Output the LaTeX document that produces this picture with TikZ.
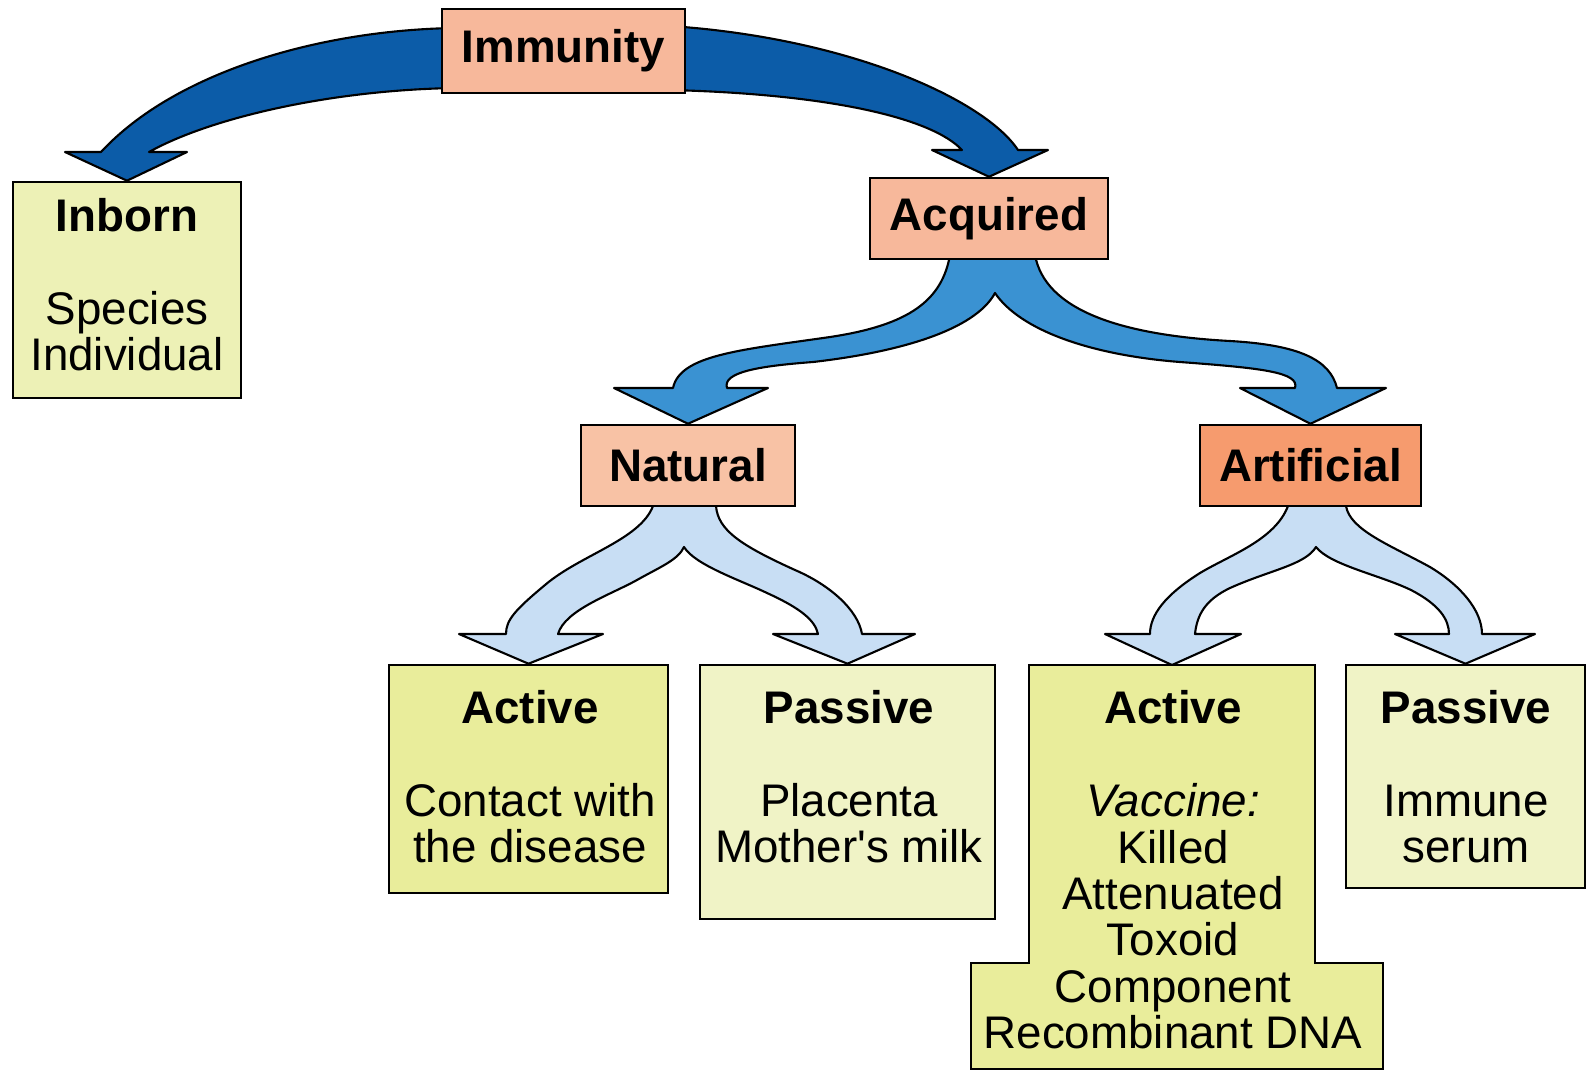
\documentclass[tikz,border=0pt]{standalone}
\usepackage{fontspec}
\setmainfont{Liberation Sans}
\usetikzlibrary{backgrounds}

\definecolor{salmon}{RGB}{247,184,155}
\definecolor{salmonlt}{RGB}{248,194,165}
\definecolor{salmondk}{RGB}{246,155,110}
\definecolor{leafyel}{RGB}{233,237,155}
\definecolor{leafpale}{RGB}{240,243,198}
\definecolor{leafmid}{RGB}{237,241,182}
\definecolor{bluedk}{RGB}{12,92,168}
\definecolor{bluemd}{RGB}{58,146,210}
\definecolor{bluelt}{RGB}{200,222,244}

\tikzset{
  hdbox/.style={draw, line width=0.7pt, fill=#1, inner sep=0pt,
    font=\fontsize{13}{13.2}\selectfont\bfseries},
  leafbox/.style={draw, line width=0.7pt, fill=#1, inner sep=0pt},
  txtnode/.style={align=center, inner sep=0pt, font=\fontsize{13}{13.2}\selectfont},
  bandfill/.style={draw, line width=0.6pt, fill=#1, line join=round},
}

\begin{document}
\begin{tikzpicture}[x=0.01cm, y=-0.01cm]
\useasboundingbox (0,0) rectangle (1587,1072);

% headers
\node[hdbox=salmon, minimum width=2.43cm, minimum height=0.84cm] (imm) at (563.5,51) {Immunity};
\node[hdbox=salmon, minimum width=2.38cm, minimum height=0.81cm] (acq) at (989,218.5) {Acquired};
\node[hdbox=salmonlt, minimum width=2.14cm, minimum height=0.81cm] (nat) at (688,465.5) {Natural};
\node[hdbox=salmondk, minimum width=2.21cm, minimum height=0.81cm] (art) at (1310.5,465.5) {Artificial};

% leaf boxes
\node[leafbox=leafmid, minimum width=2.28cm, minimum height=2.16cm] (inbornbox) at (127,290) {};
\node[leafbox=leafyel, minimum width=2.79cm, minimum height=2.28cm] (act1box) at (528.5,779) {};
\node[leafbox=leafpale, minimum width=2.95cm, minimum height=2.54cm] (pas1box) at (847.5,792) {};
\node[leafbox=leafpale, minimum width=2.39cm, minimum height=2.23cm] (pas2box) at (1465.5,776.5) {};
\draw[line width=0.7pt, fill=leafyel] (1029,665) -- (1315,665) -- (1315,963) -- (1383,963)
  -- (1383,1069) -- (971,1069) -- (971,963) -- (1029,963) -- cycle;
\coordinate (act2top) at (1172,665);

% texts
\node[txtnode] (inborn) at (127,285) {\textbf{Inborn}\\[13.2pt]Species\\Individual};
\node[txtnode] (act1) at (530,777) {\textbf{Active}\\[13.2pt]Contact with\\the disease};
\node[txtnode] (pas1) at (849,777) {\textbf{Passive}\\[13.2pt]Placenta\\Mother\textquotesingle s milk};
\node[txtnode] (act2) at (1173,870) {\textbf{Active}\\[13.2pt]\textit{Vaccine:}\\Killed\\Attenuated\\Toxoid\\Component\\Recombinant DNA};
\node[txtnode] (pas2) at (1466,777) {\textbf{Passive}\\[13.2pt]Immune\\serum};

\begin{pgfonlayer}{background}
% Immunity -> Inborn
\draw[bandfill=bluedk] (455,28) .. controls (320,30) and (175,72) .. (101,152) -- (65,152)
  -- (inbornbox.north) -- (187,152) -- (149,152) .. controls (210,118) and (330,90) .. (455,88) -- cycle;
% Immunity -> Acquired
\draw[bandfill=bluedk] (670,26) .. controls (850,38) and (985,100) .. (1018,150) -- (1048,150)
  -- (acq.north) -- (932,150) -- (962,150) .. controls (932,118) and (830,94) .. (670,90) -- cycle;

% Acquired -> Natural, Artificial
\draw[bandfill=bluemd] (950,255) .. controls (942,300) and (910,325) .. (830,337)
  .. controls (740,350) and (680,355) .. (673,388) -- (614,388) -- (nat.north) -- (768,388) -- (727,388)
  .. controls (722,372) and (760,366) .. (813,362) .. controls (900,352) and (975,330) .. (995,293)
  .. controls (1020,330) and (1090,355) .. (1180,362) .. controls (1260,368) and (1300,372) .. (1295,388)
  -- (1240,388) -- (art.north) -- (1386,388) -- (1337,388)
  .. controls (1330,360) and (1300,345) .. (1230,341) .. controls (1120,335) and (1045,310) .. (1035,255) -- cycle;

% Natural -> Active, Passive
\draw[bandfill=bluelt] (653,502) -- (653,506) .. controls (640,540) and (580,555) .. (545,585)
  .. controls (515,610) and (506,620) .. (506,634) -- (459,634) -- (act1box.north) -- (603,634) -- (558,634)
  .. controls (565,610) and (610,595) .. (637,580) .. controls (660,567) and (678,560) .. (684,547)
  .. controls (695,565) and (740,580) .. (767,593) .. controls (800,608) and (815,620) .. (818,634)
  -- (773,634) -- (pas1box.north) -- (915,634) -- (862,634)
  .. controls (858,610) and (830,585) .. (795,570) .. controls (740,545) and (718,530) .. (716,506) -- (716,502) -- cycle;

% Artificial -> Active, Passive
\draw[bandfill=bluelt] (1288,502) -- (1288,506) .. controls (1275,540) and (1230,555) .. (1200,573)
  .. controls (1165,595) and (1150,615) .. (1150,634) -- (1105,634) -- (act2top) -- (1241,634) -- (1195,634)
  .. controls (1197,615) and (1205,600) .. (1230,588) .. controls (1270,570) and (1305,565) .. (1316,547)
  .. controls (1330,565) and (1380,575) .. (1411,590) .. controls (1440,605) and (1449,620) .. (1449,634)
  -- (1395,634) -- (pas2box.north) -- (1535,634) -- (1482,634)
  .. controls (1482,610) and (1460,585) .. (1430,567) .. controls (1390,545) and (1350,530) .. (1346,506) -- (1346,502) -- cycle;
\end{pgfonlayer}

\end{tikzpicture}
\end{document}
